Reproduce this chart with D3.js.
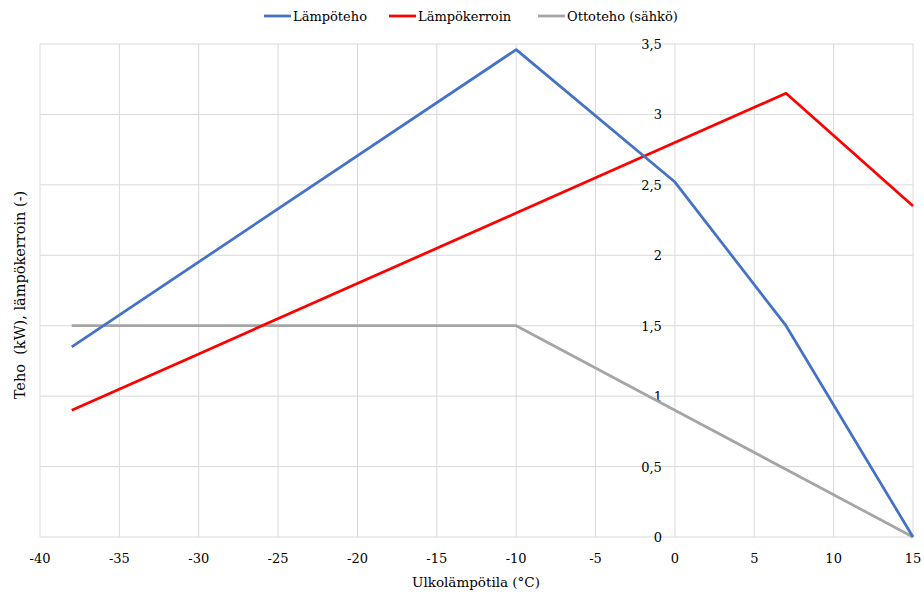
<!DOCTYPE html>
<html>
<head>
<meta charset="utf-8">
<script src="https://cdn.jsdelivr.net/npm/d3@7"></script>
<style>
  body { margin: 0; background: #fff; }
  svg text { font-family: "DejaVu Serif", "Liberation Serif", serif; fill: #000; }
</style>
</head>
<body>
<svg width="924" height="594"></svg>
<script>
// series data (x = outdoor temperature, y = value)
var tempLampoteho = [-38, -10, 0, 7, 15];
var lampoteho = [1.35, 3.46, 2.52, 1.5, 0];
var tempKerroin = [-38, -30, -10, 0, 7, 15];
var lampokerroin = [0.9, 1.3, 2.3, 2.8, 3.15, 2.35];
var tempOtto = [-38, -10, 0, 15];
var ottoteho = [1.5, 1.5, 0.9, 0];

var xTicks = [-40, -35, -30, -25, -20, -15, -10, -5, 0, 5, 10, 15];
var yTicks = [0, 0.5, 1, 1.5, 2, 2.5, 3, 3.5];

var seriesNames = ['Lämpöteho', 'Lämpökerroin', 'Ottoteho (sähkö)'];
var seriesColors = ['#4472c4', '#ff0000', '#a5a5a5'];

var svg = d3.select('svg');

var x = d3.scaleLinear().domain([-40, 15]).range([40, 913]);
var y = d3.scaleLinear().domain([0, 3.5]).range([537, 44]);

// grid
svg.append('g').selectAll('line.v')
  .data(xTicks)
  .enter().append('line')
  .attr('x1', d => x(d)).attr('x2', d => x(d))
  .attr('y1', y(3.5)).attr('y2', y(0))
  .attr('stroke', '#d9d9d9').attr('stroke-width', 1);

svg.append('g').selectAll('line.h')
  .data(yTicks)
  .enter().append('line')
  .attr('x1', x(-40)).attr('x2', x(15))
  .attr('y1', d => y(d)).attr('y2', d => y(d))
  .attr('stroke', '#d9d9d9').attr('stroke-width', 1);

function fmt(v) { return String(v).replace('.', ','); }

// x tick labels
svg.append('g').selectAll('text')
  .data(xTicks)
  .enter().append('text')
  .attr('x', d => x(d))
  .attr('y', 563)
  .attr('text-anchor', 'middle')
  .attr('font-size', 13)
  .text(d => d);

// y tick labels (next to x = 0)
svg.append('g').selectAll('text')
  .data(yTicks)
  .enter().append('text')
  .attr('x', x(0) - 13)
  .attr('y', d => y(d) + 5)
  .attr('text-anchor', 'end')
  .attr('font-size', 13)
  .text(d => fmt(d));

// axis titles
svg.append('text')
  .attr('x', 476).attr('y', 587)
  .attr('text-anchor', 'middle')
  .attr('font-size', 13.5)
  .text('Ulkolämpötila (°C)');

svg.append('text')
  .attr('transform', 'translate(25,295) rotate(-90)')
  .attr('text-anchor', 'middle')
  .attr('font-size', 14.5)
  .style('white-space', 'pre')
  .text('Teho  (kW), lämpökerroin (-)');

// lines
var line = d3.line().x(d => x(d[0])).y(d => y(d[1]));
var series = [
  d3.zip(tempLampoteho, lampoteho),
  d3.zip(tempKerroin, lampokerroin),
  d3.zip(tempOtto, ottoteho)
];
// draw order: gray under, then red, then blue
[2, 1, 0].forEach(function(i) {
  svg.append('path')
    .datum(series[i])
    .attr('d', line)
    .attr('fill', 'none')
    .attr('stroke', seriesColors[i])
    .attr('stroke-width', 2.75)
    .attr('stroke-linejoin', 'round');
});

// legend
var legendX = [264, 389, 538];
var lg = svg.append('g');
seriesNames.forEach(function(name, i) {
  lg.append('line')
    .attr('x1', legendX[i]).attr('x2', legendX[i] + 27)
    .attr('y1', 16).attr('y2', 16)
    .attr('stroke', seriesColors[i]).attr('stroke-width', 2.75);
  lg.append('text')
    .attr('x', legendX[i] + 29).attr('y', 21)
    .attr('font-size', 13)
    .text(name);
});
</script>
</body>
</html>
